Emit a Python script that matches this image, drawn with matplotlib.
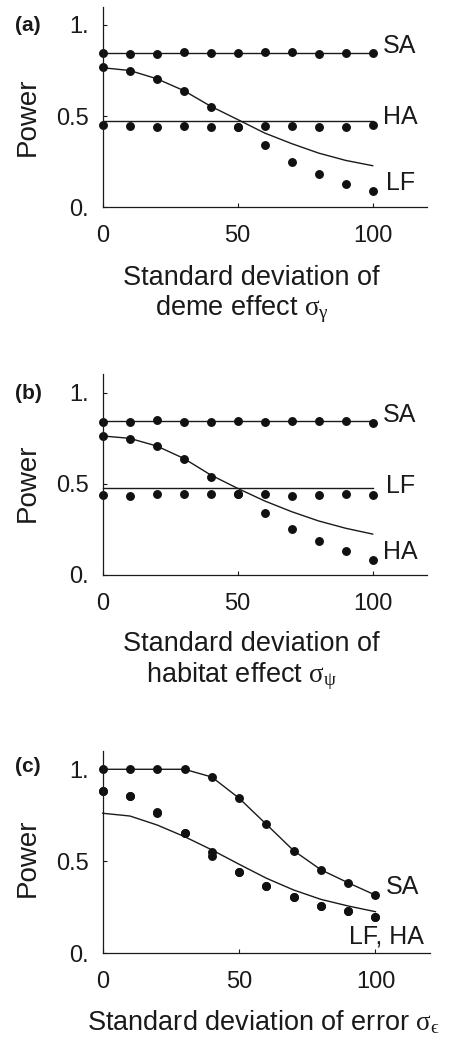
import matplotlib
matplotlib.use("Agg")
import matplotlib.pyplot as plt
import numpy as np

plt.rcParams['font.family'] = ['Liberation Sans', 'DejaVu Sans']
plt.rcParams['mathtext.fontset'] = 'custom'
plt.rcParams['mathtext.rm'] = 'Liberation Serif'
plt.rcParams['mathtext.it'] = 'Liberation Serif'
plt.rcParams['mathtext.fallback'] = 'stix'

sd = [0, 10, 20, 30, 40, 50, 60, 70, 80, 90, 100]
xticks = [0, 50, 100]
yticks = [0, 0.5, 1.0]
ytick_labels = ['0.', '0.5', '1.']

# panel (a): deme effect
a_sa_line = [0.846] * 11
a_sa_pts = [0.846, 0.842, 0.842, 0.850, 0.848, 0.844, 0.853, 0.850, 0.842, 0.846, 0.846]
a_ha_line = [0.475] * 11
a_ha_pts = [0.450, 0.446, 0.440, 0.444, 0.440, 0.440, 0.448, 0.444, 0.440, 0.439, 0.451]
a_lf_line = [0.765, 0.750, 0.705, 0.640, 0.554, 0.481, 0.407, 0.349, 0.297, 0.257, 0.228]
a_lf_pts = [0.771, 0.745, 0.705, 0.640, 0.550, 0.440, 0.341, 0.246, 0.182, 0.130, 0.090]

# panel (b): habitat effect
b_sa_line = [0.842] * 11
b_sa_pts = [0.841, 0.841, 0.850, 0.841, 0.837, 0.842, 0.841, 0.844, 0.844, 0.844, 0.835]
b_lf_line = [0.474] * 11
b_lf_pts = [0.438, 0.432, 0.445, 0.445, 0.445, 0.441, 0.445, 0.434, 0.438, 0.441, 0.436]
b_ha_line = [0.762, 0.749, 0.707, 0.639, 0.548, 0.474, 0.405, 0.346, 0.295, 0.255, 0.223]
b_ha_pts = [0.760, 0.745, 0.705, 0.636, 0.538, 0.441, 0.339, 0.251, 0.185, 0.132, 0.081]

# panel (c): error
c_sa_line = [1.0, 1.0, 1.0, 1.0, 0.958, 0.843, 0.701, 0.558, 0.454, 0.383, 0.316]
c_sa_pts = [1.0, 1.0, 1.0, 1.0, 0.957, 0.842, 0.701, 0.558, 0.453, 0.382, 0.315]
c_low_line = [0.761, 0.746, 0.697, 0.634, 0.562, 0.484, 0.408, 0.344, 0.293, 0.257, 0.226]
c_lf_pts = [0.884, 0.855, 0.770, 0.652, 0.549, 0.442, 0.364, 0.308, 0.257, 0.228, 0.197]
c_ha_pts = [0.884, 0.855, 0.761, 0.652, 0.531, 0.442, 0.364, 0.308, 0.257, 0.228, 0.197]

fig = plt.figure(figsize=(4.49, 10.39), dpi=100)

TICK_FS = 17
LAB_FS = 18
AX_FS = 19.5
LW = 1.0
MS = 5.4
INK = '#1a1a1a'

def setup(ax):
    ax.set_xlim(0, 120)
    ax.set_ylim(0, 1.1)
    for s in ['top', 'right']:
        ax.spines[s].set_visible(False)
    for s in ['left', 'bottom']:
        ax.spines[s].set_linewidth(0.9)
        ax.spines[s].set_color(INK)
    ax.set_xticks(xticks)
    ax.set_xticklabels([str(t) for t in xticks])
    ax.set_yticks(yticks)
    ax.set_yticklabels(ytick_labels)
    ax.tick_params(direction='in', length=3, width=0.8, labelsize=TICK_FS,
                   colors=INK)
    ax.tick_params(axis='x', pad=13)
    ax.tick_params(axis='y', pad=10)

def series(ax, line, pts):
    ax.plot(sd, line, color=INK, lw=LW, clip_on=False)
    ax.plot(sd, pts, 'o', color='#111111', ms=MS, clip_on=False)

# (a)
ax1 = fig.add_axes([0.2287, 0.8005, 0.7216, 0.1931])
setup(ax1)
series(ax1, a_sa_line, a_sa_pts)
series(ax1, a_ha_line, a_ha_pts)
series(ax1, a_lf_line, a_lf_pts)
ax1.text(103.7, 0.884, 'SA', fontsize=LAB_FS, va='center', color=INK)
ax1.text(103.7, 0.495, 'HA', fontsize=LAB_FS, va='center', color=INK)
ax1.text(104.9, 0.135, 'LF', fontsize=LAB_FS, va='center', color=INK)

# (b)
ax2 = fig.add_axes([0.2287, 0.4469, 0.7216, 0.1927])
setup(ax2)
series(ax2, b_sa_line, b_sa_pts)
series(ax2, b_lf_line, b_lf_pts)
series(ax2, b_ha_line, b_ha_pts)
ax2.text(103.7, 0.877, 'SA', fontsize=LAB_FS, va='center', color=INK)
ax2.text(104.9, 0.487, 'LF', fontsize=LAB_FS, va='center', color=INK)
ax2.text(103.7, 0.126, 'HA', fontsize=LAB_FS, va='center', color=INK)

# (c)
ax3 = fig.add_axes([0.2287, 0.0825, 0.729, 0.1948])
setup(ax3)
series(ax3, c_sa_line, c_sa_pts)
ax3.plot(sd, c_low_line, color=INK, lw=LW, clip_on=False)
ax3.plot(sd, c_lf_pts, 'o', color='#111111', ms=MS, clip_on=False)
ax3.plot(sd, c_ha_pts, 'o', color='#111111', ms=MS, clip_on=False)
ax3.text(103.9, 0.362, 'SA', fontsize=LAB_FS, va='center', color=INK)
ax3.text(90.4, 0.09, 'LF, HA', fontsize=LAB_FS, va='center', color=INK)

# panel letters and y labels
H = 1039.0
W = 449.0
for lab, yc in [('(a)', 25.7), ('(b)', 393.0), ('(c)', 767.0)]:
    fig.text(15 / W, 1 - yc / H, lab, fontsize=15, fontweight='bold',
             va='center', ha='left', color=INK)
for yc in [117.0, 483.0, 858.0]:
    fig.text(28 / W, 1 - yc / H, 'Power', fontsize=20, rotation=90,
             va='center', ha='center', color=INK)

# x labels
fig.text(251 / W, 1 - 278 / H, 'Standard deviation of', fontsize=AX_FS,
         ha='center', va='center', color=INK)
fig.text(242 / W, 1 - 309 / H, r'deme effect $\sigma_\gamma$', fontsize=AX_FS,
         ha='center', va='center', color=INK)
fig.text(251 / W, 1 - 644 / H, 'Standard deviation of', fontsize=AX_FS,
         ha='center', va='center', color=INK)
fig.text(242 / W, 1 - 676 / H, r'habitat effect $\sigma_\psi$', fontsize=AX_FS,
         ha='center', va='center', color=INK)
fig.text(263 / W, 1 - 1022 / H, 'Standard deviation of error $\\sigma_{\u03f5}$',
         fontsize=AX_FS, ha='center', va='center', color=INK)

fig.savefig('out.png', dpi=100)
